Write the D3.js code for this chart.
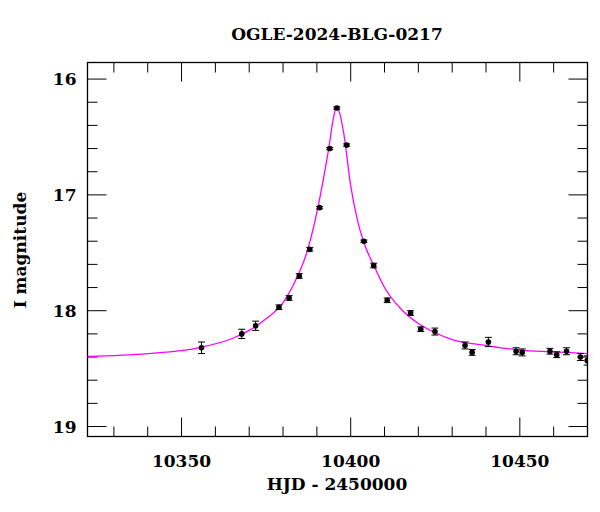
<!DOCTYPE html>
<html><head><meta charset="utf-8">
<script src="https://cdn.jsdelivr.net/npm/d3@7"></script>
<style>body{margin:0;background:#fff}text{font-family:"DejaVu Serif",serif;fill:#000}</style>
</head><body><svg id="c" width="600" height="512"></svg>
<script>
const obsT = [10355.9,10367.8,10371.9,10378.8,10381.8,10384.8,10387.9,10390.8,10393.8,10395.9,10398.8,10403.9,10406.8,10410.8,10417.7,10420.7,10424.9,10433.8,10435.9,10440.7,10448.9,10450.7,10458.9,10460.9,10463.8,10467.9,10469.9];
const obsMag = [18.32,18.20,18.13,17.97,17.89,17.70,17.47,17.11,16.60,16.25,16.57,17.40,17.61,17.91,18.02,18.16,18.18,18.30,18.36,18.27,18.35,18.36,18.35,18.38,18.35,18.40,18.43];
const obsErr = [0.05,0.04,0.04,0.02,0.02,0.02,0.015,0.01,0.01,0.01,0.01,0.01,0.02,0.02,0.02,0.02,0.03,0.03,0.025,0.04,0.03,0.03,0.025,0.025,0.03,0.03,0.04];
const modelT = [10322,10340,10355,10365,10370,10375,10380,10384,10387,10390,10392,10393.5,10395,10395.8,10396.8,10398,10400,10402,10404,10407,10410,10415,10420,10425,10430,10440,10450,10460,10470];
const modelMag = [18.395,18.37,18.32,18.24,18.17,18.07,17.93,17.72,17.50,17.15,16.85,16.60,16.32,16.24,16.30,16.48,16.92,17.22,17.42,17.62,17.80,17.99,18.11,18.19,18.25,18.30,18.34,18.355,18.37];
const xMajor = [10350,10400,10450];
const yMajor = [16,17,18,19];
const title = "OGLE-2024-BLG-0217";

const svg = d3.select("#c");
const L=87.5,R=587.5,T=62.5,B=436.5;
const x = d3.scaleLinear().domain([10322.2,10470]).range([L,R]);
const y = d3.scaleLinear().domain([15.857,19.086]).range([T,B]);

svg.append("clipPath").attr("id","clip").append("rect").attr("x",L).attr("y",T).attr("width",R-L).attr("height",B-T);

const g = svg.append("g").attr("stroke","#000").attr("stroke-width",1);
const xMin = d3.range(10330,10471,10).filter(v=>!xMajor.includes(v));
const yMin = d3.range(16,19.01,0.2).map(v=>+v.toFixed(1)).filter(v=>!yMajor.includes(v));
xMajor.forEach(v=>{g.append("line").attr("x1",x(v)).attr("x2",x(v)).attr("y1",B).attr("y2",B-19);g.append("line").attr("x1",x(v)).attr("x2",x(v)).attr("y1",T).attr("y2",T+19);});
xMin.forEach(v=>{g.append("line").attr("x1",x(v)).attr("x2",x(v)).attr("y1",B).attr("y2",B-10);g.append("line").attr("x1",x(v)).attr("x2",x(v)).attr("y1",T).attr("y2",T+10);});
yMajor.forEach(v=>{g.append("line").attr("y1",y(v)).attr("y2",y(v)).attr("x1",L).attr("x2",L+19);g.append("line").attr("y1",y(v)).attr("y2",y(v)).attr("x1",R).attr("x2",R-19);});
yMin.forEach(v=>{g.append("line").attr("y1",y(v)).attr("y2",y(v)).attr("x1",L).attr("x2",L+10);g.append("line").attr("y1",y(v)).attr("y2",y(v)).attr("x1",R).attr("x2",R-10);});
svg.append("rect").attr("x",L).attr("y",T).attr("width",R-L).attr("height",B-T).attr("fill","none").attr("stroke","#000").attr("stroke-width",1.3);

const fw = 600;
xMajor.forEach(v=>svg.append("text").attr("x",x(v)).attr("y",B+30).attr("text-anchor","middle").attr("font-size",17).attr("font-weight",fw).text(v));
yMajor.forEach(v=>svg.append("text").attr("x",L-11).attr("y",y(v)+6).attr("text-anchor","end").attr("font-size",17).attr("font-weight",fw).text(v));
svg.append("text").attr("x",337).attr("y",490).attr("text-anchor","middle").attr("font-size",17).attr("font-weight",fw).text("HJD - 2450000");
svg.append("text").attr("transform","translate(26,250) rotate(-90)").attr("text-anchor","middle").attr("font-size",17).attr("font-weight",fw).text("I magnitude");
svg.append("text").attr("x",337).attr("y",40).attr("text-anchor","middle").attr("font-size",17).attr("font-weight",fw).text(title);

const pg = svg.append("g").attr("clip-path","url(#clip)");
pg.append("path").datum(modelT.map((t,i)=>[t,modelMag[i]]))
  .attr("d",d3.line().x(d=>x(d[0])).y(d=>y(d[1])).curve(d3.curveMonotoneX))
  .attr("fill","none").attr("stroke","#ff00ff").attr("stroke-width",1.3);
obsT.forEach((t,i)=>{
  const cx=x(t),m=obsMag[i],e=obsErr[i];
  pg.append("line").attr("x1",cx).attr("x2",cx).attr("y1",y(m-e)).attr("y2",y(m+e)).attr("stroke","#000");
  [m-e,m+e].forEach(v=>pg.append("line").attr("x1",cx-3.5).attr("x2",cx+3.5).attr("y1",y(v)).attr("y2",y(v)).attr("stroke","#000"));
  pg.append("circle").attr("cx",cx).attr("cy",y(m)).attr("r",2.8).attr("fill","#000");
});
</script></body></html>
